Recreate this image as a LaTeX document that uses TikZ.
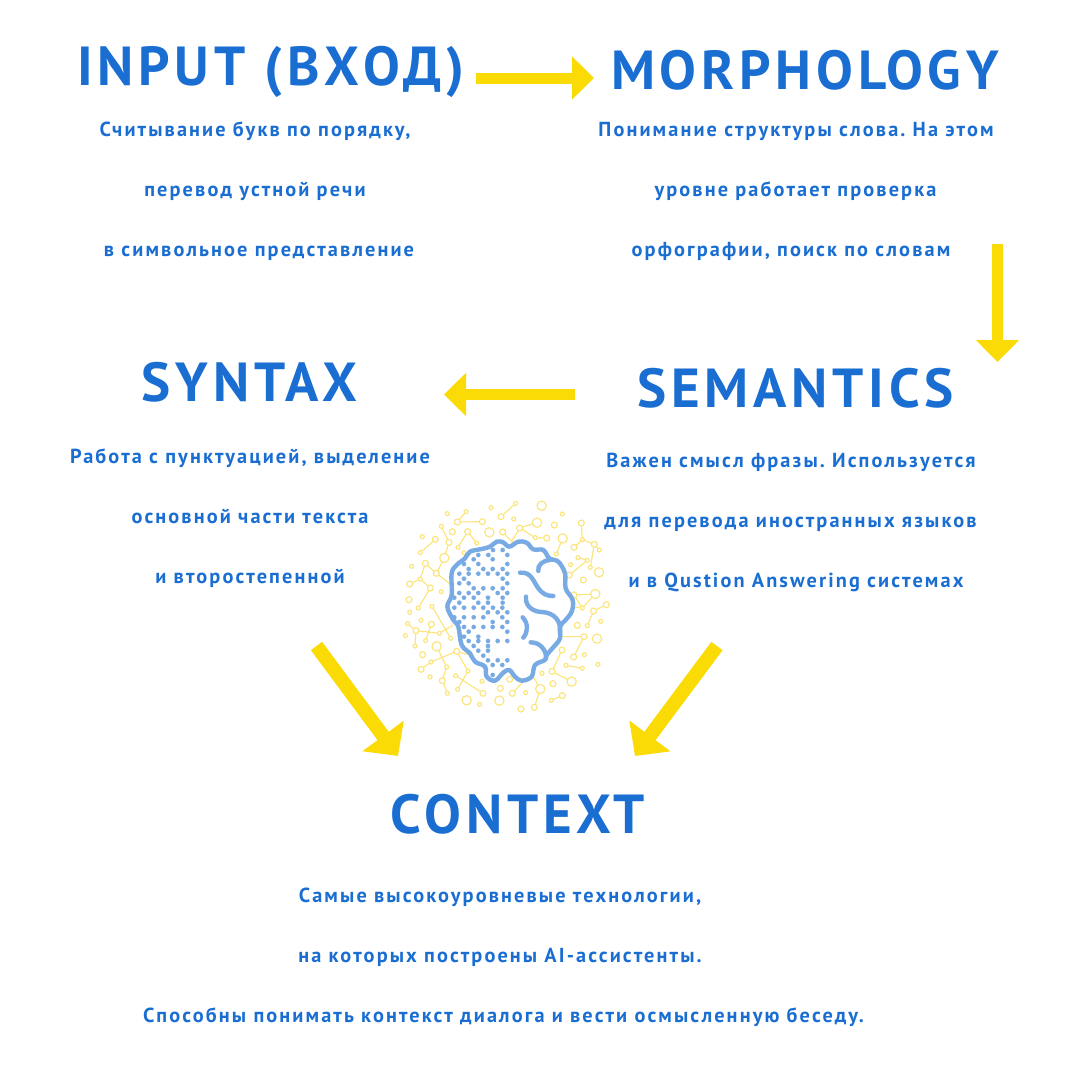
\documentclass[tikz,border=0pt]{standalone}
\usepackage{fontspec}
\setmainfont{PT Sans}
\newfontfamily\headfont[LetterSpace=8.8]{PT Sans}
\newfontfamily\bodyfont[LetterSpace=10.4]{PT Sans}
\usetikzlibrary{arrows.meta}
\definecolor{headblue}{HTML}{1A6ED2}
\definecolor{brainblue}{HTML}{78AAE4}
\definecolor{arrowyellow}{HTML}{FADB05}
\definecolor{netyellow}{HTML}{FCE57C}
\tikzset{
  head/.style={anchor=base,inner sep=0pt,text=headblue,font=\headfont\bfseries\fontsize{55}{60}\selectfont},
  body/.style={anchor=base,inner sep=0pt,text=headblue,font=\bodyfont\bfseries\fontsize{20.3}{22}\selectfont},
  thinarrow/.style={draw=arrowyellow,line width=11pt,-{Triangle[length=22pt,width=42pt,fill=arrowyellow]}},
  widearrow/.style={draw=arrowyellow,line width=14pt,-{Triangle[length=25pt,width=50pt,fill=arrowyellow]}},
  netline/.style={draw=netyellow,line width=1.15pt},
  netdot/.style={draw=netyellow,fill=white,line width=1.15pt},
  brainline/.style={draw=brainblue,line width=4.4pt,line cap=round,line join=round}
}
\frenchspacing
\begin{document}
\begin{tikzpicture}[x=1pt,y=-1pt]
	\useasboundingbox (0,0) rectangle (1080,1080);
	% headings
	\node[head] (input) at (271,85) {INPUT (ВХОД)};
	\node[head] (morph) at (805,89) {MORPHOLOGY};
	\node[head] (syntax) at (249.5,401) {SYNTAX};
	\node[head] (seman) at (795.5,407) {SEMANTICS};
	\node[head] (context) at (518,833) {CONTEXT};
	% text under the headings
	\node[body] (inputa) at (255,136) {Считывание букв по порядку,};
	\node[body] (inputb) at (255,196) {перевод устной речи};
	\node[body] (inputc) at (259,256) {в символьное представление};
	\node[body] (morpha) at (796,136) {Понимание структуры слова. На этом};
	\node[body] (morphb) at (795.5,196) {уровне работает проверка};
	\node[body] (morphc) at (791,256) {орфографии, поиск по словам};
	\node[body] (syntaxa) at (250,463) {Работа с пунктуацией, выделение};
	\node[body] (syntaxb) at (250,523) {основной части текста};
	\node[body] (syntaxc) at (250,583) {и второстепенной};
	\node[body] (semana) at (791,467) {Важен смысл фразы. Используется};
	\node[body] (semanb) at (790.5,527) {для перевода иностранных языков};
	\node[body] (semanc) at (796,587) {и в Qustion Answering системах};
	\node[body] (contexta) at (500,902) {Самые высокоуровневые технологии,};
	\node[body] (contextb) at (500,962) {на которых построены AI-ассистенты.};
	\node[body] (contextc) at (503.5,1022) {Способны понимать контекст диалога и вести осмысленную беседу.};
	% arrows
	\coordinate (afrom) at (476,78);
	\coordinate (ato) at (594,78);
	\coordinate (bfrom) at (997.5,244);
	\coordinate (bto) at (997.5,362);
	\coordinate (cfrom) at (575,394.5);
	\coordinate (cto) at (444,394.5);
	\coordinate (dfrom) at (316.5,646);
	\coordinate (dto) at (398,756);
	\coordinate (efrom) at (717,646);
	\coordinate (eto) at (635,756);
	\draw[thinarrow] (afrom)--(ato);
	\draw[thinarrow] (bfrom)--(bto);
	\draw[thinarrow] (cfrom)--(cto);
	\draw[widearrow] (dfrom)--(dto);
	\draw[widearrow] (efrom)--(eto);
	% brain with its network, coordinates in thirds of a pixel
	\begin{scope}[shift={(390,490)},x=0.3333pt,y=-0.3333pt]
		\draw[netline] (202,96)--(277,95) (202,96)--(228,65) (333,80)--(377,40) (389,114)--(441,98) (389,114)--(436,143)--(470,144)
			(338,126)--(368,158) (389,114)--(365,155) (154,109)--(177,157)--(163,204) (136,148)--(91,188) (233,125)--(204,172) (233,125)--(260,159)
			(518,145)--(499,192) (574,99)--(577,149)--(613,163)--(601,232) (613,163)--(628,180) (577,149)--(552,172) (592,211)--(564,203) (592,211)--(538,255)
			(106,220)--(91,267)--(59,282) (91,267)--(121,294)--(85,354) (106,220)--(139,250)--(163,204) (139,250)--(185,285)
			(530,320)--(552,315)--(616,312)--(577,354)--(552,315) (577,354)--(545,350) (611,363)--(649,344) (611,363)--(592,407)
			(126,349)--(182,445) (53,401)--(78,422)--(148,430)--(190,405) (78,422)--(75,468) (124,403)--(107,452)
			(515,440)--(582,440)--(551,501) (516,480)--(486,544)--(545,575) (528,526)--(577,535) (484,631)--(517,617)
			(140,469)--(170,531)--(157,572)--(172,610) (93,538)--(123,516)--(200,484)--(245,497) (200,484)--(234,543)--(203,598) (197,557)--(279,610)
			(451,597)--(433,652) (451,597)--(430,560) (367,610)--(400,575);
		\foreach \x/\y in {377/40,303/53,517/72,172/71,228/65,371/87,154/109,97/140,260/159,436/143,577/149,628/180,204/172,222/188,91/188,499/192,564/203,592/211,65/229,542/224,601/232,91/267,154/305,85/354,126/349,577/354,59/367,93/391,632/394,53/401,592/407,148/430,46/437,107/452,182/445,75/468,583/494,123/516,170/531,528/526,577/535,624/523,234/543,456/550,120/561,197/557,276/574,203/598,407/608,172/610,484/631,269/643}
			\draw[netdot] (\x,\y) circle[radius=6];
		\foreach \x/\y in {333/80,202/96,277/95,389/114,493/105,574/99,187/125,233/125,338/126,136/148,177/157,470/144,613/163,552/172,106/220,139/250,538/255,59/282,121/294,580/270,552/315,57/329,649/344,611/363,124/403,562/406,78/422,582/440,516/480,98/494,200/484,551/501,93/538,486/544,157/572,359/568,489/581,331/595,367/610,279/610,517/617,393/657,433/652}
			\draw[netdot] (\x,\y) circle[radius=9];
		\foreach \x/\y in {455/47,441/98,298/127,518/145,163/204,627/247,616/312,621/446,140/469,545/575,451/597,230/631,328/632}
			\draw[netdot] (\x,\y) circle[radius=14];
		\def\brainpath{(270,178) (300,170) (320,155) (340,157) (358,170) (385,155) (410,158) (430,178) (460,180) (478,205) (505,215) (525,250) (527,295) (548,330) (545,365) (525,392) (510,410) (510,445) (490,472) (470,495) (465,510) (435,525) (425,560) (395,572) (375,560) (358,540) (340,548) (315,572) (290,560) (285,530) (255,515) (240,490) (215,465) (205,410) (190,390) (172,350) (185,315) (185,250) (200,225) (225,205) (240,185)}
		\fill[white] plot[smooth cycle,tension=0.6] coordinates {\brainpath};
		\draw[brainline] plot[smooth cycle,tension=0.6] coordinates {\brainpath};
		\draw[brainline] (390,248) .. controls (425,245) and (430,275) .. (445,295) .. controls (458,312) and (470,318) .. (490,318);
		\draw[brainline] (445,243) .. controls (442,225) and (458,212) .. (480,210);
		\draw[brainline] (408,320) .. controls (405,350) and (430,365) .. (455,366) .. controls (495,368) and (515,395) .. (510,430);
		\draw[brainline] (398,382) .. controls (415,400) and (415,425) .. (400,443);
		\draw[brainline] (422,457) .. controls (450,457) and (470,480) .. (468,505);
		\foreach \y/\xs in {180/{309,338},195/{265,295,352},208/{251,308},222/{222,265,352},237/{236,280,308,338},251/{208,236,265,294,323,352},266/{222,338},280/{208,236,352},295/{251,280,308,338},309/{208,236,265,323,352},323/{193,222,251,294,338},338/{208,265,294,338},353/{193,222,251,280,309,337},367/{294,323,352},382/{193,222,251,280,337},396/{208,308,352},411/{222,251,280,308,337},425/{236,352},440/{222,265},453/{236,265,294,323,352},468/{251,294},482/{265,294},497/{280},511/{294,323,352},525/{308,337},555/{308}}
			\foreach \x in \xs \fill[brainblue] (\x,\y) circle[radius=7];
	\end{scope}
\end{tikzpicture}
\end{document}
